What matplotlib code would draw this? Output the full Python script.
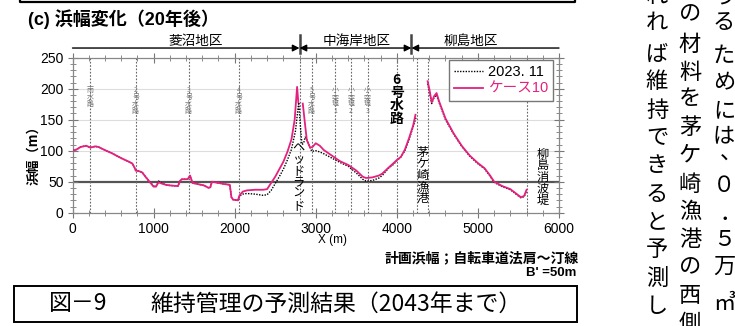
import numpy as np
import matplotlib
matplotlib.use("Agg")
import matplotlib.pyplot as plt
from matplotlib.lines import Line2D
from matplotlib.ticker import MultipleLocator

plt.rcParams["font.family"] = ["Liberation Sans", "Noto Sans CJK JP", "DejaVu Sans"]
JP = ["Noto Sans CJK JP", "DejaVu Sans"]

# -----------------------------------------------------
# DATA  (X: 測線位置 m, B: 浜幅 m)
# -----------------------------------------------------
nan = np.nan

x_case10 = [0, 50, 100, 170, 220, 280, 320, 400, 500, 600, 700, 740, 760, 780, 820, 860,
            900, 950, 1000, 1030, 1060, 1100, 1150, 1200, 1300, 1330, 1350, 1420, 1450,
            1480, 1550, 1620, 1680, 1700, 1720, 1800, 1880, 1940, 1960, 1980, 2040, 2060,
            2100, 2150, 2250, 2350, 2400, 2450, 2500, 2550, 2600, 2650, 2700, 2740, 2770,
            2785, nan, 2840, 2870, 2890, 2930, 2960, 3000, 3050, 3100, 3200, 3300, 3400,
            3500, 3580, 3620, 3700, 3780, 3820, 3900, 3960, 4000, 4050, 4100, 4150, 4200,
            4230, nan, 4380, 4400, 4430, 4460, 4490, 4520, 4600, 4700, 4800, 4900, 5000,
            5080, 5150, 5200, 5300, 5400, 5480, 5530, 5570, 5600]
b_case10 = [100, 102, 106, 108, 105, 107, 106, 101, 95, 88, 82, 79, 74, 68, 67, 65,
            58, 50, 42, 42, 49, 47, 45, 44, 43, 52, 54, 54, 60,
            48, 46, 44, 40, 41, 50, 48, 46, 45, 25, 21, 20, 28,
            34, 36, 37, 37, 38, 48, 58, 70, 82, 98, 118, 150, 203,
            178, nan, 176, 140, 117, 105, 106, 112, 108, 101, 92, 83, 77,
            68, 58, 56, 57, 60, 63, 73, 80, 85, 90, 102, 120, 140,
            158, nan, 212, 200, 178, 188, 193, 180, 152, 128, 108, 92, 80,
            72, 60, 50, 43, 38, 30, 25, 27, 37]

x_2023 = [0, 50, 100, 170, 220, 280, 320, 400, 500, 600, 700, 740, 760, 780, 820, 860,
          900, 950, 1000, 1030, 1060, 1100, 1150, 1200, 1300, 1330, 1350, 1420, 1450,
          1480, 1550, 1620, 1680, 1700, 1720, 1800, 1880, 1940, 1960, 1980, 2040, 2060,
          2100, 2150, 2250, 2350, 2400, 2450, 2500, 2550, 2600, 2650, 2700, 2750, 2790,
          2810, 2830, 2850, 2870, 2890, 2950, 3000, 3050, 3100, 3200, 3300, 3400, 3500,
          3580, 3620, 3700, 3780, 3820, 3900, 3960, 4000, 4050, 4100, 4150, 4200, 4240,
          nan, 4380, 4400, 4430, 4460, 4490, 4520, 4600, 4700, 4800, 4900, 5000, 5080,
          5150, 5200, 5300, 5400, 5480, 5530, 5570, 5600]
b_2023 = [100, 102, 106, 108, 105, 107, 106, 101, 95, 88, 82, 79, 74, 68, 67, 65,
          58, 50, 43, 43, 51, 48, 45, 44, 43, 52, 54, 54, 59,
          48, 46, 44, 40, 41, 50, 48, 46, 45, 25, 21, 20, 27,
          30, 31, 30, 28, 29, 36, 47, 58, 70, 85, 102, 132, 178,
          140, 110, 112, 122, 118, 99, 100, 98, 95, 88, 81, 75, 64,
          54, 51, 52, 56, 60, 72, 78, 84, 90, 100, 118, 138, 155,
          nan, 208, 196, 176, 186, 190, 178, 150, 127, 107, 91, 79, 71,
          59, 49, 42, 37, 29, 24, 26, 35]

# 構造物位置と名称
structure_x = [216, 779, 1433, 2049, 2800, 2950, 3237, 3434, 3640, 4005, 4244, 4380, 5600]
minor_names = ["雨水路", "2号水路", "3号水路", "4号水路", "5号水路", "小突堤1", "小突堤2", "小突堤3"]
minor_x = [216, 779, 1433, 2049, 2950, 3237, 3434, 3640]

districts = ["菱沼地区", "中海岸地区", "柳島地区"]
district_edges = [0, 2800, 4180, 6000]
district_label_x = [1520, 3505, 4915]

plan_width = 50

# -----------------------------------------------------
# FIGURE (pixel helpers)
# -----------------------------------------------------
W, H = 735, 326
fig = plt.figure(figsize=(W / 100, H / 100), dpi=100)


def fx(x):
    return x / W


def fy(y):
    return 1 - y / H


ax = fig.add_axes([fx(72.5), fy(212.7), (559 - 72.5) / W, (212.7 - 57.7) / H])

magenta = "#E5207F"

for yv in [100, 150, 200]:
    ax.axhline(yv, color="#dddddd", lw=0.8, zorder=0)
ax.axhline(plan_width, color="#555555", lw=1.6, zorder=1)

for xv in structure_x:
    ax.axvline(xv, color="#666666", lw=0.8, ls=(0, (1.5, 1.5)), zorder=1)

ax.plot(x_2023, b_2023, color="black", lw=1.0, ls=(0, (1, 1)), zorder=3)
ax.plot(x_case10, b_case10, color=magenta, lw=1.3, zorder=4)

ax.set_xlim(0, 6000)
ax.set_ylim(0, 250)
ax.xaxis.set_major_locator(MultipleLocator(1000))
ax.xaxis.set_minor_locator(MultipleLocator(200))
ax.yaxis.set_major_locator(MultipleLocator(50))
ax.yaxis.set_minor_locator(MultipleLocator(10))
ax.tick_params(which="both", direction="inout", top=True, right=True,
               color="#777777", labelsize=10, pad=3)
ax.tick_params(which="major", length=7, width=0.8)
ax.tick_params(which="minor", length=4, width=0.6)
for s in ax.spines.values():
    s.set_color("#888888")
    s.set_linewidth(0.9)

# 構造物の小ラベル
for name, xv in zip(minor_names, minor_x):
    ax.text(xv, 205, "\n".join(name), fontsize=5, color="#777777", family=JP,
            ha="center", va="top", linespacing=0.85, zorder=5)

ax.text(4000, 225, "6\n号\n水\n路", fontsize=10, fontweight="bold", family=JP,
        ha="center", va="top", linespacing=0.9, zorder=5)
ax.text(2790, 116, "\n".join("ヘッドランド"), fontsize=8.8, family=JP, ha="center",
        va="top", linespacing=0.86, zorder=5)
ax.text(4315, 108, "\n".join("茅ケ崎漁港"), fontsize=8.8, family=JP, ha="center",
        va="top", linespacing=0.86, zorder=5)
ax.text(5800, 105, "\n".join("柳島消波堤"), fontsize=8.8, family=JP, ha="center",
        va="top", linespacing=0.86, zorder=5)

# 地区区分の矢印
arrow_y = 265.6
styles = ["-|>", "<|-|>", "<|-"]
for i, name in enumerate(districts):
    ax.annotate("", xy=(district_edges[i + 1], arrow_y), xytext=(district_edges[i], arrow_y),
                xycoords="data", annotation_clip=False,
                arrowprops=dict(arrowstyle=styles[i], color="black", lw=1.0,
                                mutation_scale=10, shrinkA=0, shrinkB=0))
    ax.text(district_label_x[i], arrow_y + 0.5, name, fontsize=9.8, family=JP,
            ha="center", va="bottom", clip_on=False)
for xv in district_edges[1:3]:
    ax.plot([xv, xv], [257, 286], color="#444444", lw=1.8, clip_on=False)

handles = [Line2D([], [], color="black", lw=1.0, ls=(0, (1, 1))),
           Line2D([], [], color=magenta, lw=1.3)]
leg = ax.legend(handles, ["2023. 11", "ケース10"], loc="upper right",
                bbox_to_anchor=(0.988, 0.985), borderaxespad=0, fontsize=10.5,
                frameon=True, fancybox=False, edgecolor="#777777", handlelength=2.0,
                handletextpad=0.3, borderpad=0.35, labelspacing=0.2, framealpha=1)
leg.get_frame().set_linewidth(1.0)
leg.get_texts()[1].set_color(magenta)

# -----------------------------------------------------
# TEXT OUTSIDE AXES
# -----------------------------------------------------
fig.text(fx(28), fy(19), "(c) 浜幅変化（20年後）", fontsize=13, fontweight="bold",
         family=["Liberation Sans", "Noto Sans CJK JP"], va="center", ha="left")
fig.text(fx(33), fy(152), "浜幅（m）", fontsize=9.5, fontweight="bold", family=JP,
         rotation=90, ha="center", va="center")
fig.text(fx(333), fy(240), "X (m)", fontsize=8.5, ha="center", va="center")
fig.text(fx(579), fy(258), "計画浜幅；自転車道法肩～汀線", fontsize=10, fontweight="bold",
         family=JP, ha="right", va="center")
fig.text(fx(576), fy(273), "B' =50m", fontsize=9.5, fontweight="bold",
         ha="right", va="center")

# 上の枠の下端
fig.add_artist(Line2D([fx(20), fx(20), fx(575), fx(575)], [fy(-5), fy(2), fy(2), fy(-5)],
                      color="black", lw=1.6))

# 図番号の枠
fig.add_artist(plt.Rectangle((fx(14), fy(322)), (577 - 14) / W, (322 - 286) / H,
                             fill=False, edgecolor="black", lw=1.4))
fig.text(fx(49), fy(304), "図－9", fontsize=16.5, family=JP, ha="left", va="center")
fig.text(fx(150), fy(304), "維持管理の予測結果（2043年まで）", fontsize=16.5,
         family=JP, ha="left", va="center")

# 右側の本文（縦書き）
columns = [
    (657, ["れ", "れ", "ば", "維", "持", "で", "き", "る", "と", "予", "測", "し"],
     [-4, 23, 54, 82, 110, 138, 166, 194, 222, 250, 278, 306]),
    (690, ["の", "材", "料", "を", "茅", "ケ", "崎", "漁", "港", "の", "西", "側"],
     [14, 44, 72, 99, 127, 155, 184, 211, 239, 267, 295, 323]),
    (724, ["う", "る", "た", "め", "に", "は", "、", "０", "．", "５", "万", "㎥"],
     [-3, 23, 55, 82, 111, 136, 153, 186, 213, 239, 266, 303]),
]
for cx, chars, ys in columns:
    for ch, cy in zip(chars, ys):
        dx = 0
        if ch in "、．":
            dx = 7
        fig.text(fx(cx + dx), fy(cy), ch, fontsize=16, family=JP, ha="center", va="center")

fig.savefig("out.png", dpi=100)
